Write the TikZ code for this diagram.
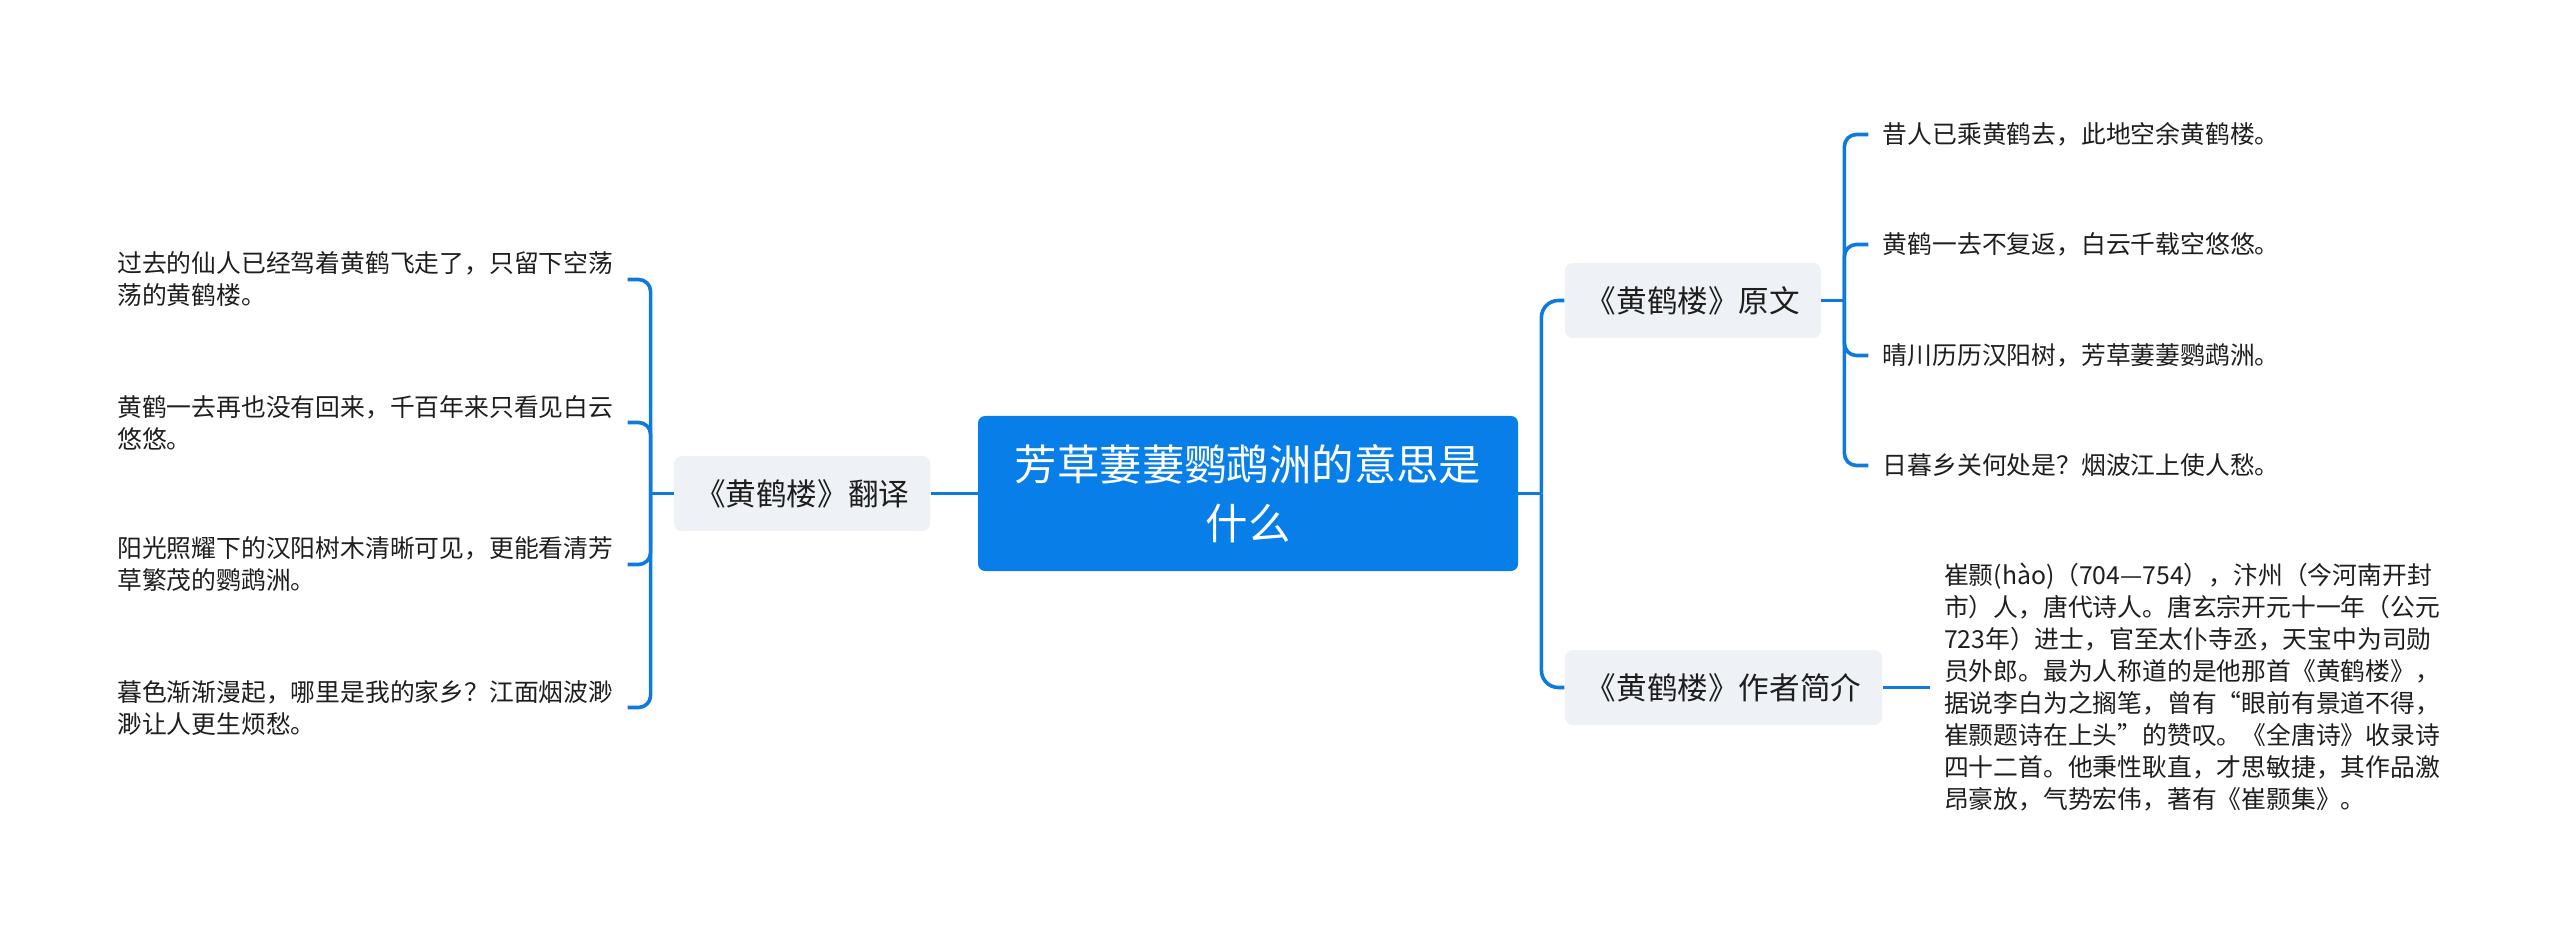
\documentclass[tikz,border=0pt]{standalone}
\usepackage{fontspec}
\setmainfont{Noto Sans CJK SC}
\usepackage{tikz}
\usetikzlibrary{positioning}
\definecolor{TopicBlue}{RGB}{8,127,232}
\definecolor{LinkBlue}{RGB}{14,122,222}
\definecolor{BranchGray}{RGB}{238,241,245}
\definecolor{InkGray}{RGB}{30,30,30}
\tikzset{
  topicnode/.style={fill=TopicBlue,text=white,rounded corners=3.5pt,minimum width=270pt,minimum height=77.5pt,align=center,font=\fontsize{21.2pt}{29.5pt}\selectfont},
  branchnode/.style={fill=BranchGray,text=InkGray,rounded corners=4pt,inner xsep=10.5pt,minimum height=37.5pt,font=\fontsize{15.3pt}{18pt}\selectfont},
  leafnode/.style={text=InkGray,inner xsep=7pt,inner ysep=0pt,align=left,font=\fontsize{12.4pt}{16pt}\selectfont},
  linkline/.style={draw=LinkBlue,line width=1.8pt,rounded corners=8.5pt},
  leafline/.style={draw=LinkBlue,line width=1.8pt,rounded corners=6pt}
}

\begin{document}
\begin{tikzpicture}
\useasboundingbox (0,0) rectangle (1280pt,-467.5pt);
\node[topicnode] (main) at (624pt,-246.75pt) {芳草萋萋鹦鹉洲的意思是\\什么};
\node[branchnode, left=23.5pt of main] (trans) {《黄鹤楼》翻译};
\node[branchnode, right=23pt of main, yshift=96.5pt] (orig) {《黄鹤楼》原文};
\node[branchnode, right=23pt of main, yshift=-97pt] (author) {《黄鹤楼》作者简介};

\node[leafnode, left=23pt of trans, yshift=107pt] (l1) {过去的仙人已经驾着黄鹤飞走了，只留下空荡\\荡的黄鹤楼。};
\node[leafnode, left=23pt of trans, yshift=35.5pt] (l2) {黄鹤一去再也没有回来，千百年来只看见白云\\悠悠。};
\node[leafnode, left=23pt of trans, yshift=-35.5pt] (l3) {阳光照耀下的汉阳树木清晰可见，更能看清芳\\草繁茂的鹦鹉洲。};
\node[leafnode, left=23pt of trans, yshift=-107pt] (l4) {暮色渐渐漫起，哪里是我的家乡？江面烟波渺\\渺让人更生烦愁。};

\node[leafnode, right=23.5pt of orig, yshift=83pt] (r1) {昔人已乘黄鹤去，此地空余黄鹤楼。};
\node[leafnode, right=23.5pt of orig, yshift=28pt] (r2) {黄鹤一去不复返，白云千载空悠悠。};
\node[leafnode, right=23.5pt of orig, yshift=-27.5pt] (r3) {晴川历历汉阳树，芳草萋萋鹦鹉洲。};
\node[leafnode, right=23.5pt of orig, yshift=-82.5pt] (r4) {日暮乡关何处是？烟波江上使人愁。};

\node[leafnode, right=23.5pt of author] (bio) {崔颢(hào)（704—754），汴州（今河南开封\\市）人，唐代诗人。唐玄宗开元十一年（公元\\723年）进士，官至太仆寺丞，天宝中为司勋\\员外郎。最为人称道的是他那首《黄鹤楼》，\\据说李白为之搁笔，曾有“眼前有景道不得，\\崔颢题诗在上头”的赞叹。《全唐诗》收录诗\\四十二首。他秉性耿直，才思敏捷，其作品激\\昂豪放，气势宏伟，著有《崔颢集》。};

\draw[linkline] (main.west) -- (trans.east);
\draw[linkline] (main.east) -- ++(11.5pt,0) coordinate (mj);
\draw[linkline] (mj) |- (orig.west);
\draw[linkline] (mj) |- (author.west);

\draw[leafline] (trans.west) -- ++(-11.5pt,0) coordinate (tj);
\draw[leafline] (tj) |- (l1.east);
\draw[leafline] (tj) |- (l2.east);
\draw[leafline] (tj) |- (l3.east);
\draw[leafline] (tj) |- (l4.east);

\draw[leafline] (orig.east) -- ++(11.5pt,0) coordinate (oj);
\draw[leafline] (oj) |- (r1.west);
\draw[leafline] (oj) |- (r2.west);
\draw[leafline] (oj) |- (r3.west);
\draw[leafline] (oj) |- (r4.west);

\draw[leafline] (author.east) -- (bio.west);
\end{tikzpicture}
\end{document}
